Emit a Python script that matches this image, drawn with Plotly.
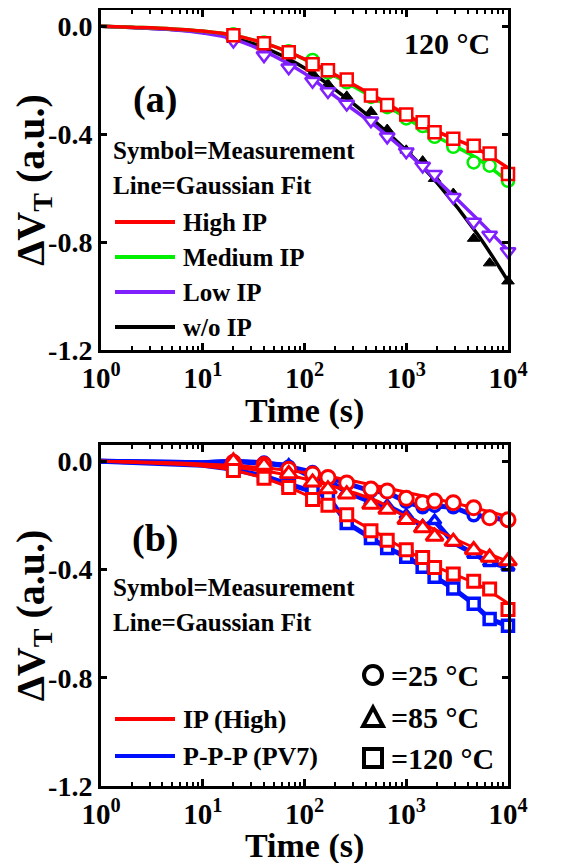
import plotly.graph_objects as go

# ---------------- data ----------------
t_meas = [20, 40, 70, 120, 170, 260, 450, 650, 1000, 1450, 1900, 2900, 4600, 6600, 10000]
t_fit = [1, 2, 5, 10, 20, 50, 100, 200, 500, 1000, 2000, 5000, 10000]

# panel (a) 120 C measurements
high_ip = [-0.034, -0.063, -0.097, -0.141, -0.163, -0.198, -0.257, -0.292, -0.327, -0.356, -0.393, -0.417, -0.443, -0.472, -0.548]
medium_ip = [-0.030, -0.060, -0.093, -0.125, -0.172, -0.208, -0.262, -0.300, -0.342, -0.370, -0.410, -0.447, -0.505, -0.517, -0.573]
low_ip = [-0.055, -0.109, -0.154, -0.204, -0.242, -0.288, -0.350, -0.410, -0.465, -0.518, -0.549, -0.634, -0.726, -0.774, -0.835]
wo_ip = [-0.050, -0.090, -0.135, -0.175, -0.215, -0.260, -0.317, -0.383, -0.460, -0.500, -0.565, -0.620, -0.787, -0.878, -0.945]

# panel (a) Gaussian fits
high_fit = [0.0, -0.004, -0.010, -0.018, -0.033, -0.075, -0.122, -0.180, -0.262, -0.328, -0.390, -0.455, -0.525]
medium_fit = [0.0, -0.004, -0.010, -0.018, -0.033, -0.075, -0.123, -0.185, -0.270, -0.340, -0.410, -0.490, -0.575]
low_fit = [0.0, -0.005, -0.013, -0.025, -0.048, -0.110, -0.175, -0.260, -0.370, -0.465, -0.570, -0.715, -0.830]
wo_fit = [0.0, -0.005, -0.012, -0.022, -0.042, -0.095, -0.155, -0.235, -0.355, -0.460, -0.580, -0.770, -0.945]

# panel (b) measurements
ip_25 = [-0.005, -0.012, -0.030, -0.047, -0.060, -0.080, -0.103, -0.110, -0.137, -0.153, -0.147, -0.153, -0.172, -0.209, -0.216]
ip_85 = [0.000, -0.016, -0.047, -0.078, -0.103, -0.122, -0.160, -0.178, -0.216, -0.247, -0.278, -0.297, -0.328, -0.356, -0.369]
ip_120 = high_ip
pv7_25 = [0.000, -0.005, -0.020, -0.040, -0.060, -0.080, -0.110, -0.115, -0.150, -0.170, -0.165, -0.170, -0.200, -0.205, -0.220]
pv7_85 = [0.000, -0.010, -0.015, -0.060, -0.070, -0.115, -0.150, -0.165, -0.200, -0.240, -0.220, -0.300, -0.345, -0.375, -0.392]
pv7_120 = [-0.030, -0.055, -0.085, -0.110, -0.130, -0.228, -0.284, -0.321, -0.353, -0.390, -0.427, -0.470, -0.527, -0.583, -0.608]

# panel (b) fits
ip_25_fit = [0.0, -0.002, -0.006, -0.010, -0.016, -0.028, -0.042, -0.060, -0.090, -0.115, -0.140, -0.175, -0.205]
ip_85_fit = [0.0, -0.003, -0.008, -0.013, -0.022, -0.042, -0.065, -0.095, -0.145, -0.205, -0.255, -0.325, -0.370]
ip_120_fit = high_fit
pv7_head_t = [1, 5, 10]
pv7_25_head = [0.0, -0.004, -0.006]
pv7_85_head = [0.0, -0.004, -0.006]
pv7_120_head = [0.0, -0.008, -0.015]

x_tickvals = [1, 10, 100, 1000, 10000]
x_ticktext = ['10<sup>0</sup>', '10<sup>1</sup>', '10<sup>2</sup>', '10<sup>3</sup>', '10<sup>4</sup>']
y_tickvals = [0.0, -0.4, -0.8, -1.2]
y_ticktext = ['0.0', '-0.4', '-0.8', '-1.2']

RED = '#ff0000'
GREEN = '#00ee00'
PURPLE = '#8020ff'
BLACK = '#000000'
BLUE = '#0010ff'
FONT = 'Liberation Serif'

fig = go.Figure()


def fit_line(x, y, color, xa, ya, width=3.5, shape='spline'):
    fig.add_trace(go.Scatter(x=x, y=y, mode='lines', line=dict(color=color, width=width, shape=shape),
                             xaxis=xa, yaxis=ya, showlegend=False, hoverinfo='skip', cliponaxis=False))


def markers(x, y, color, symbol, size, xa, ya, fill='white', lw=2.5):
    fig.add_trace(go.Scatter(x=x, y=y, mode='markers',
                             marker=dict(symbol=symbol, size=size, color=fill, line=dict(color=color, width=lw)),
                             xaxis=xa, yaxis=ya, showlegend=False, cliponaxis=False))


# ----- panel (a)
fit_line(t_fit, wo_fit, BLACK, 'x', 'y')
markers(t_meas, wo_ip, BLACK, 'triangle-up', 11, 'x', 'y', fill=BLACK, lw=1)
fit_line(t_fit, low_fit, PURPLE, 'x', 'y')
markers(t_meas, low_ip, PURPLE, 'triangle-down', 13, 'x', 'y')
fit_line(t_fit, medium_fit, GREEN, 'x', 'y')
markers(t_meas, medium_ip, GREEN, 'circle', 12, 'x', 'y')
fit_line(t_fit, high_fit, RED, 'x', 'y')
markers(t_meas, high_ip, RED, 'square', 12, 'x', 'y')

# ----- panel (b)
for head, vals, sym in [(pv7_25_head, pv7_25, 'circle'), (pv7_85_head, pv7_85, 'triangle-up'),
                        (pv7_120_head, pv7_120, 'square')]:
    fit_line(pv7_head_t + t_meas, head + vals, BLUE, 'x2', 'y2', width=5, shape='linear')
    markers(t_meas, vals, BLUE, sym, 11, 'x2', 'y2', fill='white', lw=3.5)
for fitv, vals, sym, sz in [(ip_25_fit, ip_25, 'circle', 14), (ip_85_fit, ip_85, 'triangle-up', 15),
                            (ip_120_fit, ip_120, 'square', 12)]:
    fit_line(t_fit, fitv, RED, 'x2', 'y2', width=3)
    markers(t_meas, vals, RED, sym, sz, 'x2', 'y2', lw=3)

# page body has an 8px margin: figure coordinates = page coordinates - 8
OFF = 8
W, H = 567 - OFF, 863 - OFF
ml, mr, mt, mb = 101 - OFF, 567 - 508, 10 - OFF, 863 - 786
plot_h = H - mt - mb
dom_a = [(786 - 350) / plot_h, 1.0]
dom_b = [0.0, (786 - 445) / plot_h]

minor_vals = [m * 10 ** d for d in range(4) for m in range(2, 10)]

xcommon = dict(type='log', range=[0, 4], showline=True, linecolor='black', linewidth=3, mirror='ticks',
               ticks='inside', ticklen=7, tickwidth=2.5, tickcolor='black', automargin=False,
               tickvals=x_tickvals, ticktext=x_ticktext,
               tickfont=dict(family=FONT, size=29, color='black', weight='bold'),
               minor=dict(ticks='inside', ticklen=4, tickwidth=2, tickcolor='black', tickvals=minor_vals,
                          showgrid=False),
               showgrid=False, zeroline=False)
ycommon = dict(range=[-1.2, 0.06], showline=True, linecolor='black', linewidth=3, mirror='ticks',
               ticks='inside', ticklen=6, tickwidth=2.5, tickcolor='black', automargin=False,
               tickvals=y_tickvals, ticktext=y_ticktext,
               tickfont=dict(family=FONT, size=28, color='black', weight='bold'),
               showgrid=False, zeroline=False,
               title=dict(text='ΔV<sub>T</sub> (a.u.)', font=dict(family=FONT, size=40, color='black', weight='bold'),
                          standoff=1))

fig.update_layout(
    width=W, height=H, margin=dict(l=ml, r=mr, t=mt, b=mb, autoexpand=False),
    paper_bgcolor='white', plot_bgcolor='white', showlegend=False,
    xaxis=dict(xcommon, domain=[0, 1], anchor='y'),
    yaxis=dict(ycommon, domain=dom_a, anchor='x'),
    xaxis2=dict(xcommon, domain=[0, 1], anchor='y2'),
    yaxis2=dict(ycommon, domain=dom_b, anchor='x2'),
)

ann = []


def text(s, x, y, xa, ya, size, xanchor='left'):
    ann.append(dict(text=s, x=x, y=y, xref=xa + ' domain', yref=ya + ' domain', showarrow=False,
                    xanchor=xanchor, yanchor='middle',
                    font=dict(family=FONT, size=size, color='black', weight='bold')))


def dx(px):
    return (px - 101) / 407.0


def dya(py):
    return (350 - py) / 340.0


def dyb(py):
    return (786 - py) / 341.0


# x axis titles
text('Time (s)', 0.5, dya(411), 'x', 'y', 34, 'center')
text('Time (s)', 0.5, dyb(846), 'x2', 'y2', 34, 'center')

# panel (a) texts
text('(a)', dx(155), dya(100), 'x', 'y', 38, 'center')
text('120 °C', dx(447), dya(44), 'x', 'y', 30, 'center')
text('Symbol=Measurement', dx(111), dya(150), 'x', 'y', 25)
text('Line=Gaussian Fit', dx(111), dya(186), 'x', 'y', 25)
shapes = []
for label, color, py in [('High IP', RED, 222), ('Medium IP', GREEN, 257), ('Low IP', PURPLE, 292),
                         ('w/o IP', BLACK, 327)]:
    shapes.append(dict(type='line', xref='x domain', yref='y domain', x0=dx(115), x1=dx(175),
                       y0=dya(py), y1=dya(py), line=dict(color=color, width=4)))
    text(label, dx(181), dya(py), 'x', 'y', 25)

# panel (b) texts
text('(b)', dx(155), dyb(538), 'x2', 'y2', 38, 'center')
text('Symbol=Measurement', dx(111), dyb(587), 'x2', 'y2', 25)
text('Line=Gaussian Fit', dx(111), dyb(622), 'x2', 'y2', 25)
for label, color, py in [('IP (High)', RED, 719), ('P-P-P (PV7)', BLUE, 756)]:
    shapes.append(dict(type='line', xref='x2 domain', yref='y2 domain', x0=dx(115), x1=dx(175),
                       y0=dyb(py), y1=dyb(py), line=dict(color=color, width=4)))
    text(label, dx(181), dyb(py), 'x2', 'y2', 26)

cx = dx(373)
hx = 9 / 407.0
hy = 9 / 341.0
# circle key
shapes.append(dict(type='circle', xref='x2 domain', yref='y2 domain', x0=cx - hx, x1=cx + hx,
                   y0=dyb(675) - hy, y1=dyb(675) + hy, line=dict(color='black', width=4)))
# triangle key
ty = dyb(717)
shapes.append(dict(type='path', xref='x2 domain', yref='y2 domain',
                   path=f'M {cx - hx * 1.1},{ty - hy} L {cx + hx * 1.1},{ty - hy} L {cx},{ty + hy * 1.05} Z',
                   line=dict(color='black', width=4)))
# square key
sy = dyb(758)
shapes.append(dict(type='rect', xref='x2 domain', yref='y2 domain', x0=cx - hx, x1=cx + hx,
                   y0=sy - hy, y1=sy + hy, line=dict(color='black', width=4)))
text('=25 °C', dx(389), dyb(675), 'x2', 'y2', 30)
text('=85 °C', dx(389), dyb(717), 'x2', 'y2', 30)
text('=120 °C', dx(389), dyb(758), 'x2', 'y2', 30)

fig.update_layout(annotations=ann, shapes=shapes)
fig.write_html('out.html')
